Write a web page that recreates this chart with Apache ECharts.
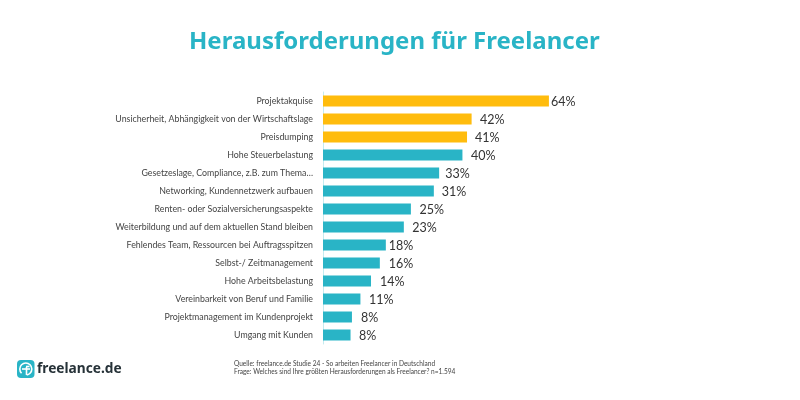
<!DOCTYPE html>
<html><head><meta charset="utf-8">
<style>html,body{margin:0;padding:0;background:#fff}#c{width:800px;height:400px}</style>
<script src="https://cdn.jsdelivr.net/npm/echarts@6/dist/echarts.min.js"></script>
</head><body><div id="c"></div>
<script>
const categories = ["Projektakquise","Unsicherheit, Abhängigkeit von der Wirtschaftslage","Preisdumping","Hohe Steuerbelastung","Gesetzeslage, Compliance, z.B. zum Thema…","Networking, Kundennetzwerk aufbauen","Renten- oder Sozialversicherungsaspekte","Weiterbildung und auf dem aktuellen Stand bleiben","Fehlendes Team, Ressourcen bei Auftragsspitzen","Selbst-/ Zeitmanagement","Hohe Arbeitsbelastung","Vereinbarkeit von Beruf und Familie","Projektmanagement im Kundenprojekt","Umgang mit Kunden"];
const values = [64,42.1,40.8,39.5,32.9,31.4,24.9,22.9,17.8,16.1,13.6,10.6,8.2,7.8];
const highlighted = [0,1,2];
const labelGaps = [2,8.5,8,8.5,6,8,8.5,8.5,3,9,9,8.5,9,8.5];
const title = "Herausforderungen für Freelancer";
const sourceLines = ["Quelle: freelance.de Studie 24 - So arbeiten Freelancer in Deutschland","Frage: Welches sind Ihre größten Herausforderungen als Freelancer? n=1.594"];
const brand = "freelance.de";
const TEAL="#29b4c6", AMBER="#ffbc0d";
const chart = echarts.init(document.getElementById('c'));
const logoStroke = {stroke:'#fff',lineWidth:1.6,fill:'none'};
chart.setOption({
  animation:false,
  backgroundColor:'#fff',
  title:{text:title,left:184,top:25,textStyle:{fontFamily:'Noto Sans',fontSize:24,fontWeight:'bold',color:TEAL}},
  grid:{left:323,top:92,width:353,height:252},
  xAxis:{type:'value',min:0,max:100,show:false},
  yAxis:{type:'category',inverse:true,data:categories,offset:1,
    axisLine:{lineStyle:{color:'#c5ebf0',width:1}},axisTick:{show:false},
    axisLabel:{fontFamily:'Lato',fontSize:8.8,color:'#444',margin:9}},
  series:[{type:'bar',barWidth:11,
    data:values.map((v,i)=>({value:v,
      itemStyle:{color:highlighted.includes(i)?AMBER:TEAL},
      label:{distance:labelGaps[i]}})),
    label:{show:true,position:'right',offset:[0,1],formatter:p=>Math.round(p.value)+'%',fontFamily:'Lato',fontSize:12.5,color:'#333'}}],
  graphic:[
    {type:'text',x:234,y:360,style:{text:sourceLines[0],font:'6.55px Lato',fill:'#444'}},
    {type:'text',x:234,y:368,style:{text:sourceLines[1],font:'6.55px Lato',fill:'#444'}},
    {type:'rect',x:17,y:360,shape:{x:0,y:0,width:17.5,height:18,r:4},style:{fill:TEAL}},
    {type:'arc',x:25.8,y:369,shape:{cx:0,cy:0,r:6,startAngle:Math.PI*0.75,endAngle:Math.PI*0.45,clockwise:true},style:logoStroke},
    {type:'line',x:0,y:0,shape:{x1:26.5,y1:375,x2:26.5,y2:367},style:logoStroke},
    {type:'line',x:0,y:0,shape:{x1:26,y1:366.5,x2:29.5,y2:366.5},style:logoStroke},
    {type:'line',x:0,y:0,shape:{x1:22,y1:369,x2:30,y2:369},style:logoStroke},
    {type:'text',x:37,y:362.5,style:{text:brand,font:'bold 13.7px "Noto Sans"',fill:'#263238'}}
  ]
});
</script></body></html>
